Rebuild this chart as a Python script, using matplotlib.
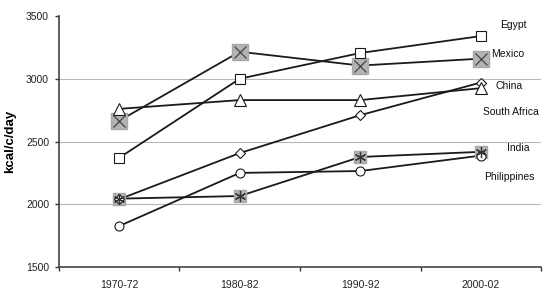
import matplotlib.pyplot as plt

periods = ["1970-72", "1980-82", "1990-92", "2000-02"]

egypt = [2370, 3000, 3205, 3340]
mexico = [2665, 3215, 3105, 3160]
south_africa = [2760, 2830, 2830, 2925]
china = [2040, 2408, 2710, 2970]
india = [2045, 2066, 2377, 2418]
philippines = [1827, 2250, 2265, 2388]

# label anchors to the right of the last point (x offset in category units, y in kcal)
labels = [
    ("Egypt", 3.27, 3430),
    ("Mexico", 3.22, 3200),
    ("China", 3.23, 2945),
    ("South Africa", 3.25, 2735),
    ("India", 3.31, 2450),
    ("Philippines", 3.24, 2218),
]

plt.rcParams["font.family"] = ["Liberation Sans", "DejaVu Sans"]

fig = plt.figure(figsize=(5.5, 2.9), dpi=100)
ax = fig.add_axes([0.107, 0.079, 0.877, 0.866])

x = range(len(periods))
line_kw = dict(color="#1a1a1a", lw=1.3, zorder=2)

# lines first
for series in (egypt, mexico, south_africa, china, india, philippines):
    ax.plot(x, series, **line_kw)

# markers
ax.plot(x, mexico, ls="none", marker="s", ms=11, mfc="#b3b3b3", mec="#a8a8a8", zorder=3)
ax.plot(x, mexico, ls="none", marker="x", ms=9, mec="#444444", mew=0.9, zorder=4)
ax.plot(x, india, ls="none", marker="s", ms=9, mfc="#b3b3b3", mec="#a8a8a8", zorder=3)
ax.plot(x, india, ls="none", marker=(6, 2, 0), ms=8, mec="#333333", mew=0.9, zorder=4)
ax.plot(x, china, ls="none", marker="D", ms=5.5, mfc="white", mec="#1a1a1a", mew=0.8, zorder=3)
ax.plot(x, philippines, ls="none", marker="o", ms=6.5, mfc="white", mec="#1a1a1a", mew=0.8, zorder=3)
ax.plot(x, south_africa, ls="none", marker="^", ms=9, mfc="white", mec="#1a1a1a", mew=0.8, zorder=3)
ax.plot(x, egypt, ls="none", marker="s", ms=7, mfc="white", mec="#1a1a1a", mew=0.8, zorder=3)

for name, lx, ly in labels:
    ax.text(lx, ly, name, ha="center", va="center", fontsize=7.5, color="#111111")

ax.set_xlim(-0.5, 3.5)
ax.set_ylim(1500, 3500)
ax.set_yticks([1500, 2000, 2500, 3000, 3500])
ax.set_xticks(list(x))
ax.set_xticklabels(periods)
ax.set_xticks([-0.5, 0.5, 1.5, 2.5, 3.5], minor=True)
ax.tick_params(axis="x", which="major", length=0, pad=9, labelsize=7.5, colors="#222222")
ax.tick_params(axis="x", which="minor", length=3, width=1, color="#333333")
ax.tick_params(axis="y", length=3, width=1, color="#333333", labelsize=7.5, labelcolor="#222222", pad=4)

ax.grid(axis="y", color="#b8b8b8", lw=0.8)
ax.yaxis.get_gridlines()[-1].set_visible(False)  # no line at the top
ax.set_axisbelow(True)
for side in ("top", "right"):
    ax.spines[side].set_visible(False)
for side in ("left", "bottom"):
    ax.spines[side].set_color("#444444")
    ax.spines[side].set_linewidth(1.2)

ax.set_ylabel("kcal/c/day", fontsize=9.5, fontweight="bold")
ax.yaxis.set_label_coords(-0.088, 0.5)

fig.savefig("out.png", dpi=100)
